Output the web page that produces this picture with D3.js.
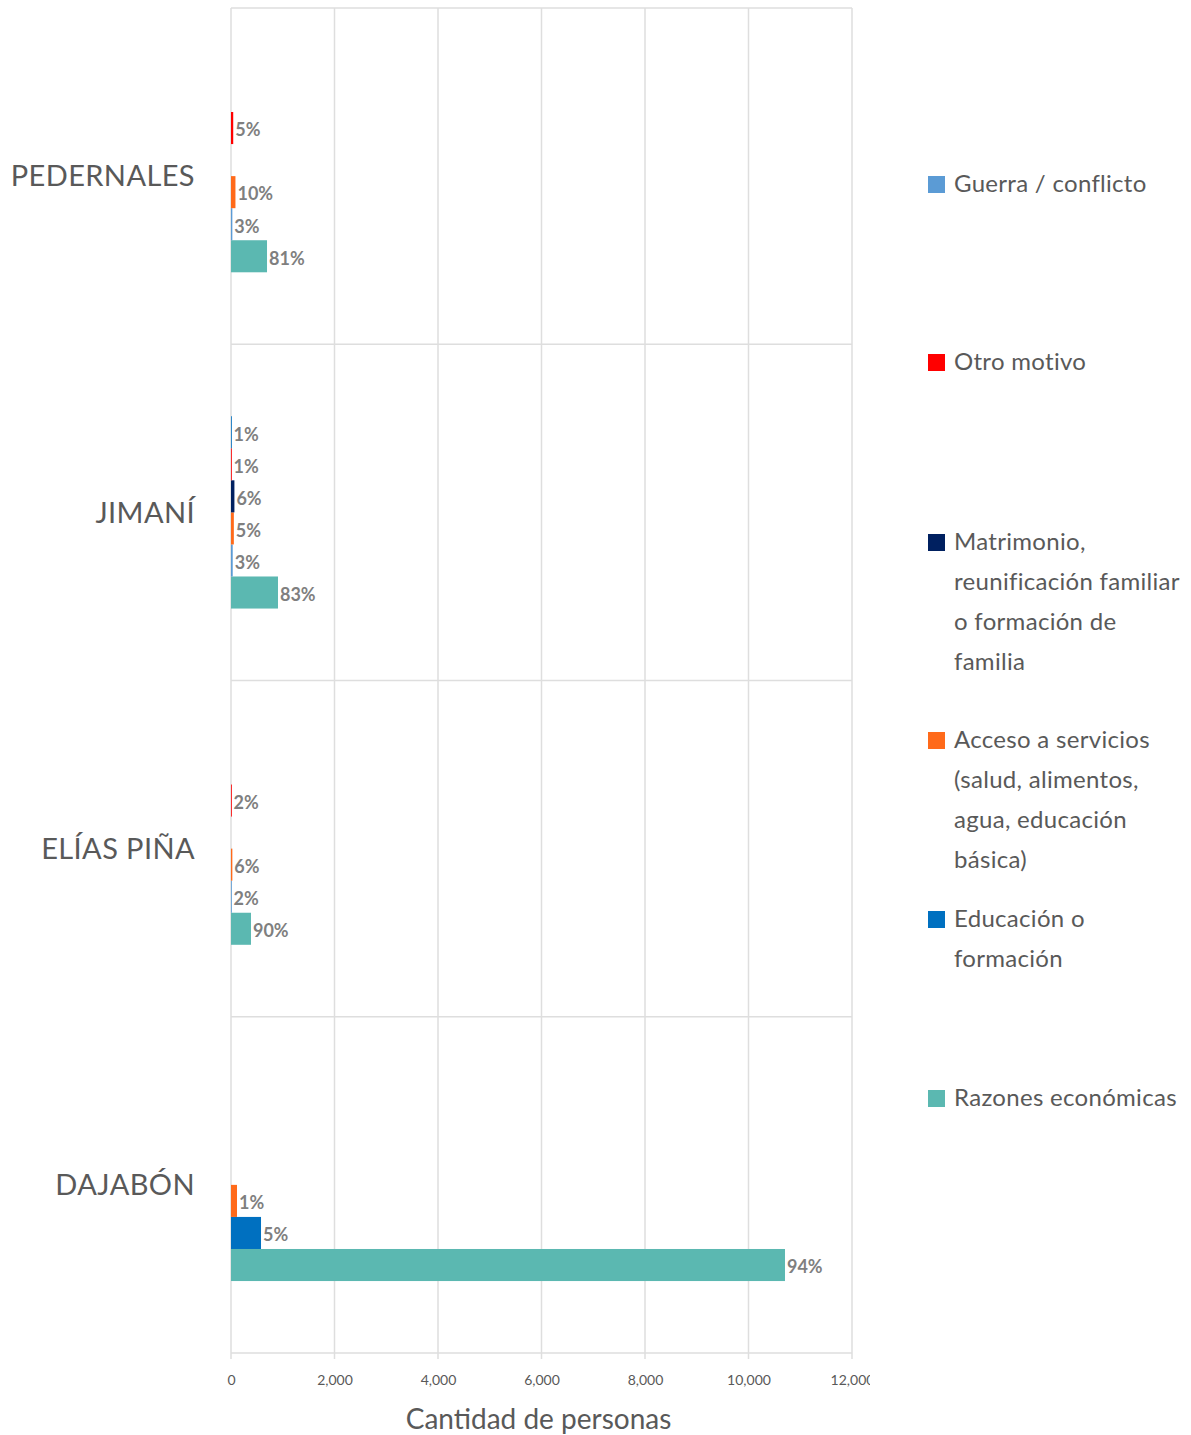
<!DOCTYPE html>
<html>
<head>
<meta charset="utf-8">
<script src="https://cdn.jsdelivr.net/npm/d3@7"></script>
<style>
  body { margin: 0; background: #fff; font-family: Lato, "Open Sans", sans-serif; }
  .grid line { stroke: #dedede; stroke-width: 1.5; }
  .barlabel { font-weight: bold; font-size: 18px; fill: #7f7f7f; }
  .catlabel { font-size: 29px; fill: #595959; letter-spacing: 0.4px; }
  .legend text { font-size: 24px; fill: #595959; letter-spacing: 0.3px; }
  .axis text { font-size: 14px; fill: #595959; }
</style>
</head>
<body>
<div class="mainviz"></div>
<script>
// data (slots listed from bottom to top within each group)
var categories = ["PEDERNALES", "JIMANÍ", "ELÍAS PIÑA", "DAJABÓN"];
var seriesNames = ["Guerra / conflicto", "Otro motivo",
  "Matrimonio, reunificación familiar o formación de familia",
  "Acceso a servicios (salud, alimentos, agua, educación básica)",
  "Educación o formación", "Razones económicas"];
var barSeries = [
  ["Razones económicas", "Guerra / conflicto", "Acceso a servicios (salud, alimentos, agua, educación básica)", null, "Otro motivo", null],
  ["Razones económicas", "Guerra / conflicto", "Acceso a servicios (salud, alimentos, agua, educación básica)", "Matrimonio, reunificación familiar o formación de familia", "Otro motivo", "Educación o formación"],
  ["Razones económicas", "Guerra / conflicto", "Acceso a servicios (salud, alimentos, agua, educación básica)", null, "Otro motivo", null],
  ["Razones económicas", "Educación o formación", "Acceso a servicios (salud, alimentos, agua, educación básica)", null, null, null]
];
var barValues = [
  [696, 26, 86, 0, 43, 0],
  [908, 33, 55, 66, 11, 11],
  [386, 9, 26, 0, 9, 0],
  [10705, 580, 116, 0, 0, 0]
];
var barLabels = [
  ["81%", "3%", "10%", "", "5%", ""],
  ["83%", "3%", "5%", "6%", "1%", "1%"],
  ["90%", "2%", "6%", "", "2%", ""],
  ["94%", "5%", "1%", "", "", ""]
];
var xTicks = [0, 2000, 4000, 6000, 8000, 10000, 12000];

var colors = d3.scaleOrdinal()
  .domain(seriesNames)
  .range(["#5b9bd5", "#ff0000", "#002060", "#ff6a1a", "#0070c0", "#5bb8b1"]);

var width = 1191, height = 1435;
var margin = { top: 8, left: 231, right: 339, bottom: 82 };
var plotW = width - margin.left - margin.right,
    plotH = height - margin.top - margin.bottom;

var svg = d3.select(".mainviz").append("svg")
  .attr("width", width)
  .attr("height", height);

var chartGroup = svg.append("g")
  .attr("transform", "translate(" + margin.left + "," + margin.top + ")");

var x = d3.scaleLinear().domain([0, 12000]).range([0, plotW]);

var y0 = d3.scaleBand()
  .domain(categories)
  .range([0, plotH])
  .paddingInner(0.428)
  .paddingOuter(0.214);

var slots = d3.range(6);
var y1 = d3.scaleBand()
  .domain(slots)
  .range([y0.bandwidth(), 0]);

var step = y0.step();

// grid
var grid = chartGroup.append("g").attr("class", "grid");
grid.selectAll("line.v")
  .data(xTicks)
  .enter().append("line")
  .attr("class", "v")
  .attr("x1", function(d){ return x(d); })
  .attr("x2", function(d){ return x(d); })
  .attr("y1", 0)
  .attr("y2", plotH + 6);
grid.selectAll("line.h")
  .data(d3.range(categories.length + 1))
  .enter().append("line")
  .attr("class", "h")
  .attr("x1", 0)
  .attr("x2", plotW)
  .attr("y1", function(d){ return d * step; })
  .attr("y2", function(d){ return d * step; });

// bars
var rows = categories.map(function(c, i){
  return slots.map(function(s){
    return { cat: c, slot: s, series: barSeries[i][s], value: barValues[i][s], label: barLabels[i][s] };
  }).filter(function(d){ return d.series && d.value > 0; });
});

var groups = chartGroup.selectAll("g.cat")
  .data(categories)
  .enter().append("g")
  .attr("class", "cat")
  .attr("transform", function(d){ return "translate(0," + y0(d) + ")"; });

groups.selectAll("rect")
  .data(function(d, i){ return rows[i]; })
  .enter().append("rect")
  .attr("x", 0)
  .attr("y", function(d){ return y1(d.slot); })
  .attr("height", y1.bandwidth())
  .attr("width", function(d){ return Math.max(x(d.value), 0.8); })
  .attr("fill", function(d){ return colors(d.series); });

groups.selectAll("text.barlabel")
  .data(function(d, i){ return rows[i]; })
  .enter().append("text")
  .attr("class", "barlabel")
  .attr("x", function(d){ return x(d.value) + 2; })
  .attr("y", function(d){ return y1(d.slot) + y1.bandwidth() / 2 + 2; })
  .attr("dy", "0.35em")
  .text(function(d){ return d.label; });

// category labels
chartGroup.selectAll("text.catlabel")
  .data(categories)
  .enter().append("text")
  .attr("class", "catlabel")
  .attr("x", -36)
  .attr("y", function(d){ return y0(d) + y0.bandwidth() / 2; })
  .attr("dy", "0.35em")
  .attr("text-anchor", "end")
  .text(function(d){ return d; });

// x axis
svg.append("clipPath").attr("id", "axisclip")
  .append("rect").attr("x", -margin.left).attr("y", -50)
  .attr("width", 870).attr("height", 200);

var xAxis = d3.axisBottom(x).tickValues(xTicks).tickSize(0).tickPadding(22)
  .tickFormat(d3.format(","));
var axisG = svg.append("g")
  .attr("class", "axis")
  .attr("clip-path", "url(#axisclip)")
  .attr("transform", "translate(" + margin.left + "," + (margin.top + plotH) + ")")
  .call(xAxis);
axisG.select(".domain").remove();
axisG.selectAll("text").attr("font-family", "Lato, sans-serif");

svg.append("text")
  .attr("x", margin.left + plotW / 2 - 3)
  .attr("y", 1429)
  .attr("text-anchor", "middle")
  .attr("font-size", 28)
  .attr("fill", "#595959")
  .text("Cantidad de personas");

// legend
var legendLines = [
  ["Guerra / conflicto"],
  ["Otro motivo"],
  ["Matrimonio,", "reunificación familiar", "o formación de", "familia"],
  ["Acceso a servicios", "(salud, alimentos,", "agua, educación", "básica)"],
  ["Educación o", "formación"],
  ["Razones económicas"]
];
var legendY = [184, 362, 542, 740, 919, 1098];

var legend = svg.append("g").attr("class", "legend");
var items = legend.selectAll("g")
  .data(seriesNames)
  .enter().append("g")
  .attr("transform", function(d, i){ return "translate(928," + legendY[i] + ")"; });
items.append("rect")
  .attr("x", 0).attr("y", -8)
  .attr("width", 17).attr("height", 17)
  .attr("fill", function(d){ return colors(d); });
items.append("text")
  .attr("x", 26)
  .selectAll("tspan")
  .data(function(d, i){ return legendLines[i]; })
  .enter().append("tspan")
  .attr("x", 26)
  .attr("y", function(d, j){ return j * 40; })
  .attr("dy", "0.35em")
  .text(function(d){ return d; });
</script>
</body>
</html>
